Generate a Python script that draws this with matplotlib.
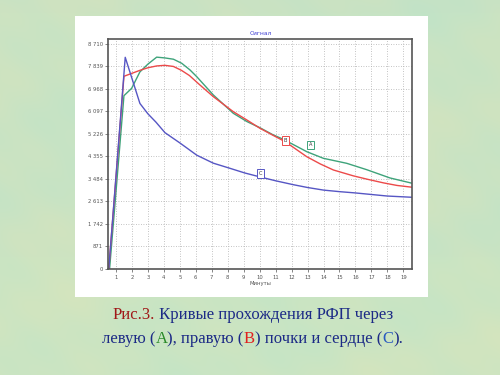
import numpy as np
import matplotlib
matplotlib.use("Agg")
import matplotlib.pyplot as plt
from matplotlib.patches import Rectangle
from matplotlib.offsetbox import TextArea, HPacker, VPacker, AnchoredOffsetbox

# ---- data ----
a_x = [0.6, 1.5, 1.98, 2.5, 3.0, 3.55, 4.06, 4.6, 5.12, 5.64, 6.06, 7.1, 8.35, 9.2,
       10.02, 10.8, 11.48, 12.2, 12.95, 13.99, 15.45, 16.7, 18.16, 19.56]
a_y = [0, 6700, 6983, 7620, 7920, 8190, 8160, 8110, 7952, 7693, 7434, 6726, 6019, 5700,
       5460, 5200, 5014, 4780, 4535, 4279, 4086, 3840, 3520, 3313]

b_x = [0.55, 1.5, 2.5, 3.0, 3.55, 4.06, 4.6, 5.1, 5.6, 6.26, 7.1, 8.35, 9.2, 10.02,
       10.8, 11.6, 12.3, 12.95, 13.8, 14.62, 15.87, 16.74, 17.75, 18.6, 19.56]
b_y = [0, 7450, 7680, 7780, 7850, 7874, 7830, 7680, 7480, 7113, 6661, 6081, 5760, 5439,
       5180, 4921, 4620, 4341, 4060, 3827, 3600, 3470, 3330, 3230, 3160]

c_x = [0.55, 1.58, 2.5, 3.0, 3.5, 4.07, 5.01, 6.06, 7.1, 8.1, 9.08, 10.02, 11.0, 12.1,
       13.0, 14.0, 15.0, 16.0, 17.0, 18.0, 19.56]
c_y = [0, 8184, 6400, 6000, 5680, 5270, 4870, 4400, 4090, 3900, 3710, 3560, 3410, 3260,
       3150, 3050, 2990, 2940, 2880, 2820, 2772]

labels = ["A", "B", "C"]
label_x = [13.2, 11.6, 10.07]
label_y = [4794, 4960, 3700]

y_ticks = [0, 871, 1742, 2613, 3484, 4355, 5226, 6097, 6968, 7839, 8710]
x_ticks = list(range(1, 20))

GREEN = "#3ea37a"
RED = "#ec4a4a"
BLUE = "#5656c4"

fig = plt.figure(figsize=(5, 3.75), dpi=100)

# ---- mottled pale green slide background ----
bg = fig.add_axes([0, 0, 1, 1], zorder=-5)
yy, xx = np.mgrid[0:1:375j, 0:1:500j]
f = (np.sin(xx * 23 + yy * 7) * 0.35 + np.sin(yy * 31 - xx * 11) * 0.3
     + np.sin(xx * 57 + yy * 43) * 0.2 + np.sin(xx * 5 - yy * 9) * 0.5)
f = (f - f.min()) / (f.max() - f.min())
base = np.array([0.82, 0.89, 0.75])
tint = np.array([0.76, 0.89, 0.78])
img = base * (1 - f[..., None]) + tint * f[..., None]
img = img + 0.03 * (1 - yy[..., None]) * np.array([0.4, 0.2, -0.2])
bg.imshow(np.clip(img, 0, 1), extent=[0, 1, 0, 1], aspect="auto", origin="lower")
bg.add_patch(Rectangle((0.15, 0.208), 0.706, 0.749, facecolor="white", edgecolor="none"))
bg.set_xlim(0, 1)
bg.set_ylim(0, 1)
bg.axis("off")

# ---- chart ----
ax = fig.add_axes([0.2166, 0.2827, 0.608, 0.6125], zorder=1)
ax.set_facecolor("white")
ax.plot(a_x, a_y, color=GREEN, lw=1.0)
ax.plot(b_x, b_y, color=RED, lw=1.0)
ax.plot(c_x, c_y, color=BLUE, lw=1.0)

for lab, lx, ly, col in zip(labels, label_x, label_y, [GREEN, RED, BLUE]):
    ax.text(lx, ly, lab, fontsize=3.6, color="#333333", ha="center", va="center",
            bbox=dict(boxstyle="square,pad=0.35", fc="white", ec=col, lw=0.7))

ax.set_xlim(0.52, 19.56)
ax.set_ylim(0, 8880)
ax.set_xticks(x_ticks)
ax.set_xticklabels([str(v) for v in x_ticks])
ax.set_yticks(y_ticks)
ax.set_yticklabels([f"{v:,}".replace(",", " ") for v in y_ticks])
ax.tick_params(labelsize=3.8, colors="#555555", length=2, width=0.5, pad=2)
ax.grid(True, color="#b0b0b0", linestyle=(0, (1, 2)), lw=0.6)
for s in ax.spines.values():
    s.set_color("#555555")
    s.set_linewidth(1.2)
ax.set_title("Сигнал", fontsize=4.2, color="#3a3ad0", pad=3)
ax.set_xlabel("Минуты", fontsize=3.8, color="#555555", labelpad=1)

# ---- caption, multicoloured ----
NAVY = "#1c2a86"
DRED = "#a01818"
kw = dict(fontsize=12, fontfamily="Liberation Serif")

def piece(t, c):
    return TextArea(t, textprops=dict(color=c, **kw))

line1 = HPacker(children=[piece("Рис.3.", DRED), piece(" Кривые прохождения РФП через", NAVY)],
                sep=0, pad=0, align="baseline")
line2 = HPacker(children=[piece("левую (", NAVY), piece("А", "#2a8a2a"), piece("), правую (", NAVY),
                          piece("В", "#e02020"), piece(") почки и сердце (", NAVY),
                          piece("С", "#2a5ac0"), piece(").", NAVY)],
                sep=0, pad=0, align="baseline")
cap = VPacker(children=[line1, line2], sep=6, pad=0, align="center")
box = AnchoredOffsetbox(loc="center", child=cap, frameon=False,
                        bbox_to_anchor=(0.505, 0.128), bbox_transform=fig.transFigure)
bg.add_artist(box)

fig.savefig("out.png", dpi=100)
